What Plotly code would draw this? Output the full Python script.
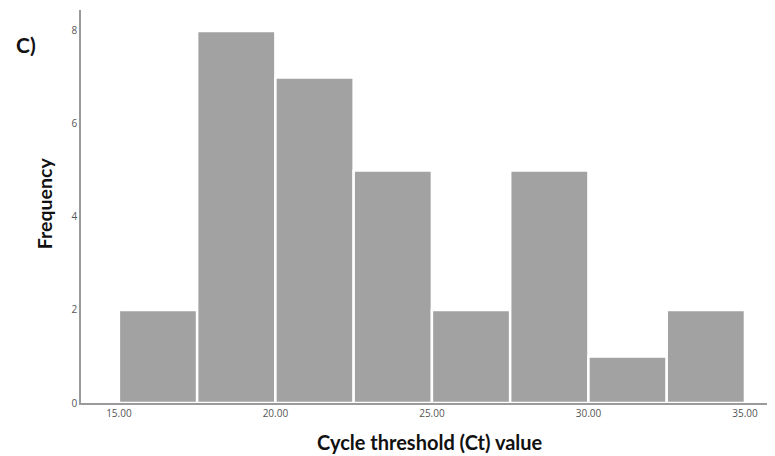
import plotly.graph_objects as go

bin_starts = [15.0, 17.5, 20.0, 22.5, 25.0, 27.5, 30.0, 32.5]
bin_width = 2.5
counts = [2, 8, 7, 5, 2, 5, 1, 2]
x_ticks = [15, 20, 25, 30, 35]
x_tick_labels = ["15.00", "20.00", "25.00", "30.00", "35.00"]
y_ticks = [0, 2, 4, 6, 8]

centers = [s + bin_width / 2 for s in bin_starts]

fig = go.Figure(go.Bar(
    x=centers, y=counts, width=[bin_width] * len(counts),
    marker=dict(color="#a2a2a2", line=dict(color="white", width=2.5)),
))

# page body has an 8px default margin, so the figure is sized to fit inside
fig.update_layout(
    width=767, height=448,
    margin=dict(l=73, r=5, t=2, b=53),
    paper_bgcolor="white", plot_bgcolor="white",
    showlegend=False,
    font=dict(family="Open Sans", color="#444"),
    xaxis=dict(range=[13.79, 35.8], tickvals=x_ticks, ticktext=x_tick_labels,
               showgrid=False, zeroline=False, showline=True, linecolor="#9a9a9a",
               linewidth=1.5, ticks="", tickfont=dict(size=10, color="#555")),
    yaxis=dict(range=[0, 8.45], tickvals=y_ticks, showgrid=False, zeroline=False,
               showline=True, linecolor="#9a9a9a", linewidth=1.5, ticks="",
               tickfont=dict(size=10, color="#555")),
)
fig.add_annotation(text="<b>Cycle threshold (Ct) value</b>", xref="paper", yref="paper",
                   x=0.507, y=-0.099, yanchor="middle", showarrow=False,
                   font=dict(size=20, color="#111", family="Lato"))
fig.add_annotation(text="<b>Frequency</b>", xref="paper", yref="paper",
                   x=-0.052, y=0.509, textangle=-90, xanchor="center", yanchor="middle",
                   showarrow=False,
                   font=dict(size=19.5, color="#111", family="Lato"))
fig.add_annotation(text="<b>C)</b>", xref="paper", yref="paper",
                   x=-0.080, y=0.911, xanchor="center", yanchor="middle", showarrow=False,
                   font=dict(size=21, color="#111", family="Lato"))

fig.write_html("out.html")
